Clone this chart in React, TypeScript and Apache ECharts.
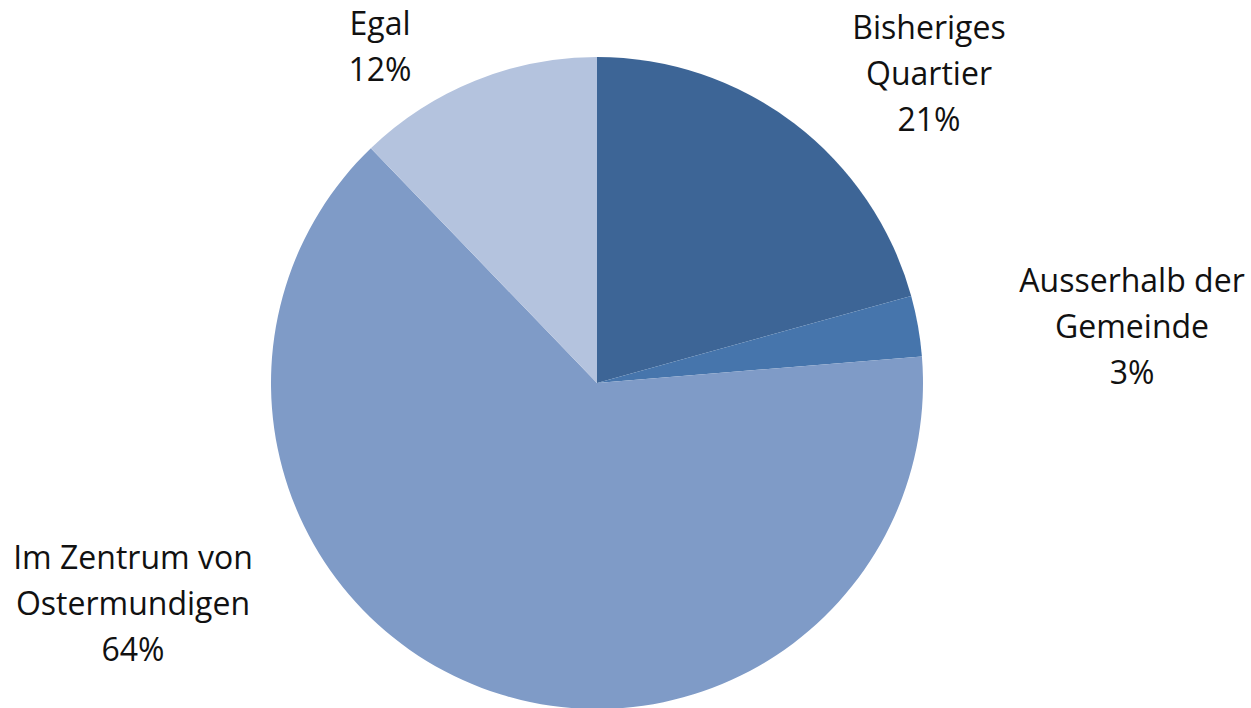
import React, { useEffect, useRef } from "react";
import * as echarts from "echarts";

const categories = [
  "Bisheriges\nQuartier",
  "Ausserhalb der\nGemeinde",
  "Im Zentrum von\nOstermundigen",
  "Egal",
];
const values = [20.7, 3.0, 64.1, 12.2];
const colors = ["#3D6596", "#4675AC", "#7F9BC7", "#B4C3DE"];
// label centre positions (layout only)
const labelPos = [
  [929, 72],
  [1132, 325],
  [133, 602],
  [380, 45],
];

export default function App() {
  const ref = useRef<HTMLDivElement>(null);
  useEffect(() => {
    const chart = echarts.init(ref.current!, null, { renderer: "svg" });
    chart.setOption({
      animation: false,
      backgroundColor: "#ffffff",
      series: [
        {
          type: "pie",
          center: [597, 383],
          radius: 326,
          startAngle: 90,
          clockwise: true,
          data: categories.map((c, i) => ({
            name: c,
            value: values[i],
            itemStyle: { color: colors[i] },
          })),
          itemStyle: { borderWidth: 0 },
          label: {
            show: true,
            position: "outside",
            formatter: (p: any) => `${p.name}\n${Math.round(p.percent)}%`,
            color: "#111111",
            fontFamily: "Open Sans",
            fontSize: 32,
            lineHeight: 46,
            align: "center",
          },
          labelLine: { show: false },
          labelLayout: (p: any) => ({
            x: labelPos[p.dataIndex][0],
            y: labelPos[p.dataIndex][1],
            align: "center",
            verticalAlign: "middle",
          }),
        },
      ],
    });
    return () => chart.dispose();
  }, []);
  return (
    <div
      ref={ref}
      style={{ position: "fixed", left: 0, top: 0, width: 1251, height: 708 }}
    />
  );
}
